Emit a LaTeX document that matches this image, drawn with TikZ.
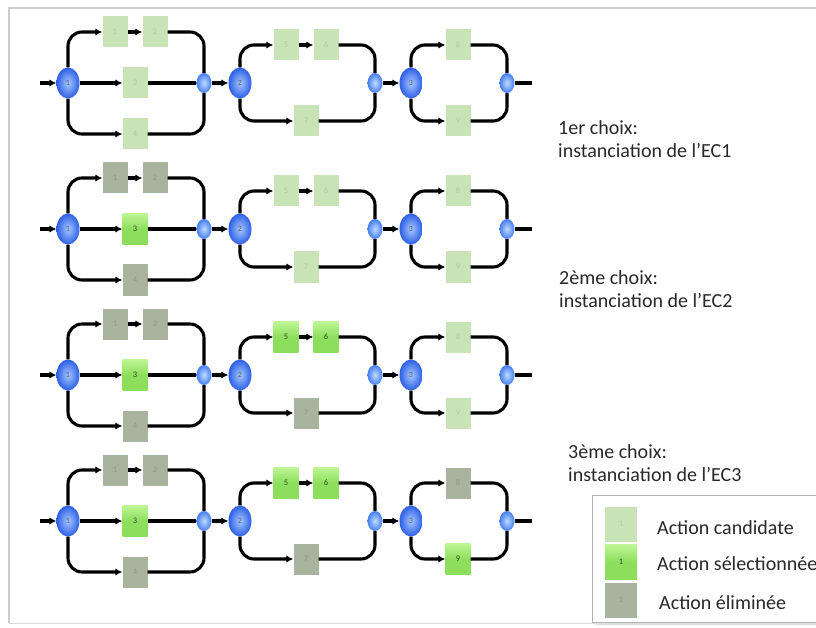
\documentclass[tikz,border=0pt]{standalone}
\usepackage{fontspec}
\setmainfont{Carlito}
\usetikzlibrary{arrows.meta,shapes.geometric}
\definecolor{candc}{RGB}{200,228,182}
\definecolor{candl}{RGB}{172,205,152}
\definecolor{selc}{RGB}{140,222,92}
\definecolor{seltop}{RGB}{190,246,148}
\definecolor{sell}{RGB}{55,75,40}
\definecolor{elimc}{RGB}{168,180,158}
\definecolor{eliml}{RGB}{142,154,132}
\definecolor{ballin}{RGB}{165,200,255}
\definecolor{ballout}{RGB}{45,95,230}
\definecolor{joinin}{RGB}{190,220,255}
\definecolor{joinout}{RGB}{70,125,240}
\definecolor{txt}{RGB}{40,40,40}
\tikzset{
 box/.style={rectangle, minimum width=25pt, minimum height=31pt, inner sep=0pt, font=\fontsize{8.5}{9}\selectfont},
 cand/.style={box, fill=candc, text=candl},
 sel/.style={box, top color=seltop, bottom color=selc, middle color=selc, text=sell},
 elim/.style={box, fill=elimc, text=eliml},
 split/.style={ellipse, minimum width=23pt, minimum height=31pt, inner sep=0pt, inner color=ballin, outer color=ballout, font=\fontsize{8}{9}\selectfont, text=black!65},
 joinnode/.style={ellipse, minimum width=15pt, minimum height=20pt, inner sep=0pt, inner color=joinin, outer color=joinout},
 flow/.style={line width=3.1pt, black, rounded corners=14pt},
 arr/.style={flow, -{Latex[length=7pt,width=7.5pt]}},
 note/.style={anchor=west, font=\fontsize{20}{23}\selectfont, text=txt, inner sep=0pt},
}
% #1 id, #2 Y, #3 state of 1,2,4, #4 state 3, #5 state 5,6, #6 state 7, #7 state 8, #8 state 9
\newcommand\procrow[8]{%
 \coordinate (#1in) at (40,#2);
 \coordinate (#1out) at (532,#2);
 \node[split] (#1n1) at (68,#2) {1};
 \node[#3] (#1b1) at (115,#2-51) {1};
 \node[#3] (#1b2) at (155,#2-51) {2};
 \node[#4] (#1b3) at (135,#2) {3};
 \node[#3] (#1b4) at (135,#2+51) {4};
 \node[joinnode] (#1j1) at (204,#2) {};
 \node[split] (#1n2) at (240,#2) {2};
 \node[#5] (#1b5) at (286,#2-38) {5};
 \node[#5] (#1b6) at (326,#2-38) {6};
 \node[#6] (#1b7) at (306,#2+38) {7};
 \node[joinnode] (#1j2) at (375,#2) {};
 \node[split] (#1n3) at (411,#2) {3};
 \node[#7] (#1b8) at (458,#2-38) {8};
 \node[#8] (#1b9) at (458,#2+38) {9};
 \node[joinnode] (#1j3) at (507,#2) {};
 \draw[arr] (#1in) -- (#1n1);
 \draw[arr] (#1n1.north) |- (#1b1.west);
 \draw[arr] (#1b1) -- (#1b2);
 \draw[flow] (#1b2.east) -| (#1j1.north);
 \draw[arr] (#1n1) -- (#1b3);
 \draw[flow] (#1b3) -- (#1j1);
 \draw[arr] (#1n1.south) |- (#1b4.west);
 \draw[flow] (#1b4.east) -| (#1j1.south);
 \draw[arr] (#1j1) -- (#1n2);
 \draw[arr] (#1n2.north) |- (#1b5.west);
 \draw[arr] (#1b5) -- (#1b6);
 \draw[flow] (#1b6.east) -| (#1j2.north);
 \draw[arr] (#1n2.south) |- (#1b7.west);
 \draw[flow] (#1b7.east) -| (#1j2.south);
 \draw[arr] (#1j2) -- (#1n3);
 \draw[arr] (#1n3.north) |- (#1b8.west);
 \draw[flow] (#1b8.east) -| (#1j3.north);
 \draw[arr] (#1n3.south) |- (#1b9.west);
 \draw[flow] (#1b9.east) -| (#1j3.south);
 \draw[flow] (#1j3) -- (#1out);
}
\begin{document}
\begin{tikzpicture}[x=1pt,y=-1pt]
\clip (0,0) rectangle (816,628);
\fill[white] (0,0) rectangle (816,628);
\draw[gray!40, line width=1.6pt] (9,623) -- (9,8) -- (830,8);
\draw[gray!30, line width=1pt] (9,623) -- (830,623);
\procrow{ra}{83}{cand}{cand}{cand}{cand}{cand}{cand}
\procrow{rb}{229}{elim}{sel}{cand}{cand}{cand}{cand}
\procrow{rc}{375}{elim}{sel}{sel}{elim}{cand}{cand}
\procrow{rd}{521}{elim}{sel}{sel}{elim}{elim}{sel}
\node[note] (t1a) at (558,128) {1er choix:};
\node[note] (t1b) at (558,151) {instanciation de l’EC1};
\node[note] (t2a) at (559,278) {2ème choix:};
\node[note] (t2b) at (559,301) {instanciation de l’EC2};
\node[note] (t3a) at (568,452) {3ème choix:};
\node[note] (t3b) at (568,475) {instanciation de l’EC3};
\draw[gray!25, line width=2pt] (595,624) -- (840,624);
\node[draw=gray!60, fill=white, line width=0.8pt, minimum width=260pt, minimum height=127pt, anchor=north west, inner sep=0pt] (legend) at (592,495) {};
\node[cand, minimum width=32pt, minimum height=35pt] (lg1) at (621,524) {1};
\node[sel, minimum width=32pt, minimum height=35pt] (lg2) at (621,562) {1};
\node[elim, minimum width=32pt, minimum height=35pt] (lg3) at (621,600) {1};
\node[note] (lt1) at (657,528) {Action candidate};
\node[note] (lt2) at (657,564) {Action sélectionnée};
\node[note] (lt3) at (659,603) {Action éliminée};
\end{tikzpicture}
\end{document}
